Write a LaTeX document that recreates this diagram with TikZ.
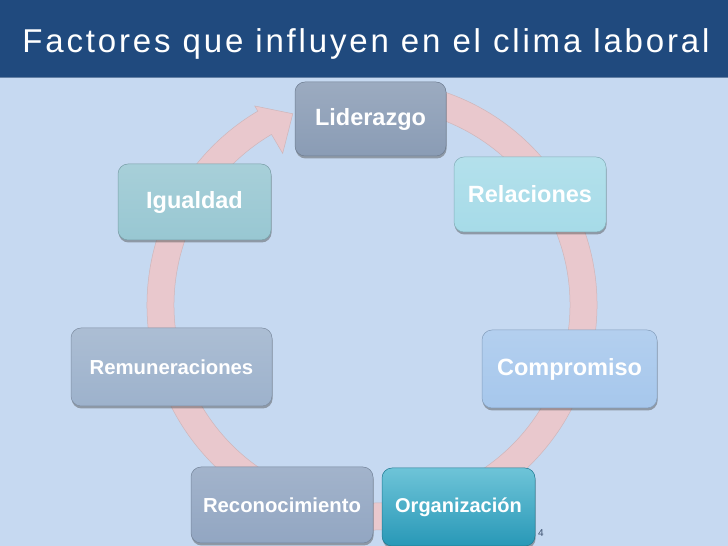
\documentclass[tikz,border=0pt]{standalone}
\usepackage{fontspec}
\setmainfont{Liberation Sans}
\usetikzlibrary{shadows}
\definecolor{bgc}{RGB}{198,217,241}
\definecolor{barc}{RGB}{32,74,126}
\definecolor{ringc}{RGB}{233,200,205}
\definecolor{cLid}{RGB}{138,156,181}
\definecolor{cRel}{RGB}{166,219,232}
\definecolor{cIgu}{RGB}{152,199,210}
\definecolor{cRem}{RGB}{157,178,204}
\definecolor{cCom}{RGB}{166,199,236}
\definecolor{cRec}{RGB}{146,166,194}
\definecolor{cOrgT}{RGB}{110,196,216}
\definecolor{cOrgB}{RGB}{40,152,183}
\definecolor{numc}{RGB}{60,80,110}
\tikzset{
  factor/.style={rounded corners=10pt, inner sep=0pt, text=white,
    font=\fontsize{23.5}{28}\selectfont\bfseries,
    drop shadow={shadow xshift=0.6pt, shadow yshift=-2.5pt, opacity=0.45, fill=black!70},
    draw=#1!80!black, line width=0.5pt,
    top color=#1!85!white, bottom color=#1},
  smallfactor/.style={font=\fontsize{20.3}{24}\selectfont\bfseries}
}
\begin{document}
\begin{tikzpicture}[x=1pt,y=1pt]
\useasboundingbox (0,0) rectangle (728,546);
\fill[bgc] (0,0) rectangle (728,546);
% title bar
\fill[barc] (0,468) rectangle (728,546);
\draw[barc!70!white, line width=0.8pt] (0,468.4) -- (728,468.4);
\node[anchor=base, text=white, font=\fontsize{33}{38}\selectfont\addfontfeatures{LetterSpace=8.6}] (title) at (366,493) {Factores que influyen en el clima laboral};
% circular arrow
\begin{scope}[shift={(372,241)}]
\filldraw[fill=ringc, draw=ringc!75!gray, line width=0.5pt] (80:225) arc[start angle=80, end angle=-239.5, radius=225]
  -- (-239.5:231) -- (-247.5:207) -- (-239.5:176) -- (-239.5:198)
  arc[start angle=-239.5, end angle=80, radius=198] -- cycle;
\end{scope}
% boxes
\node[factor=cLid, minimum width=151pt, minimum height=74pt] (lid) at (370.5,427) {Liderazgo};
\node[factor=cRel, minimum width=152pt, minimum height=75pt] (rel) at (530,351.5) {Relaciones};
\node[factor=cIgu, minimum width=153pt, minimum height=76pt] (igu) at (194.5,344) {Igualdad};
\node[factor=cRem, smallfactor, minimum width=201pt, minimum height=78pt] (rem) at (171.5,179) {Remuneraciones};
\node[factor=cCom, minimum width=175pt, minimum height=78pt] (com) at (569.5,177) {Compromiso};
\node[factor=cRec, smallfactor, minimum width=182pt, minimum height=76pt] (rec) at (282,41) {Reconocimiento};
\node[rounded corners=10pt, inner sep=0pt, text=white,
    font=\fontsize{20}{24}\selectfont\bfseries,
    drop shadow={shadow xshift=0.6pt, shadow yshift=-2.5pt, opacity=0.45, fill=black!70},
    draw=cOrgB!80!black, line width=0.5pt,
    top color=cOrgT, bottom color=cOrgB,
    minimum width=153pt, minimum height=78pt] (org) at (458.5,39) {Organización};
\node[text=numc, font=\fontsize{10}{12}\selectfont] (num) at (541,13) {4};
\end{tikzpicture}
\end{document}
